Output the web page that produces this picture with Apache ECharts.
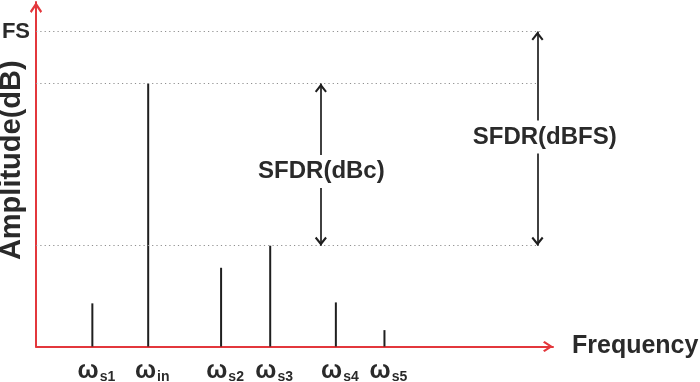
<!DOCTYPE html>
<html>
<head>
<meta charset="utf-8">
<style>
  html, body { margin: 0; padding: 0; background: #ffffff; }
  #chart { width: 700px; height: 382px; }
</style>
<script src="https://cdn.jsdelivr.net/npm/echarts@6/dist/echarts.min.js"></script>
</head>
<body>
<div id="chart"></div>
<script>
// ---- data (arbitrary linear units) ----
const toneFreq   = [10.9, 21.7, 35.8, 45.3, 58.0, 67.4];
const toneAmp    = [13.7, 83.5, 25.0, 32.0, 14.0, 5.2];
const toneSubs   = ['s1', 'in', 's2', 's3', 's4', 's5'];
const fsLevel      = 100;    // full scale
const carrierLevel = 83.5;   // fundamental amplitude
const spurLevel    = 32.0;   // worst spur amplitude
const guideEnd     = [97.6, 97.1, 97.1];     // end of dotted guides (FS, carrier, spur)
const sfdrX        = [55.1, 97.0];           // x of dBc / dBFS arrows
const sfdrLabelX   = [55.2, 98.4];
const sfdrLabelY   = [55.6, 66.5];
const sfdrNames    = ['SFDR(dBc)', 'SFDR(dBFS)'];
const yTickLabels  = ['FS'];

const FONT = "'Liberation Sans', Arial, sans-serif";
const RED = '#e3373c';
const INK = '#1f1f1f';
const chevron = 'path://M50,0 L100,76 L87,90 L50,34 L13,90 L0,76 Z';

const chart = echarts.init(document.getElementById('chart'), null, { renderer: 'canvas' });

const spikes = toneFreq.map((f, i) => [f, toneAmp[i]]);
const guideLevels = [fsLevel, carrierLevel, spurLevel];

const option = {
  animation: false,
  backgroundColor: '#ffffff',
  grid: { left: 36, right: 147, top: 2, bottom: 35.5, containLabel: false, outerBoundsMode: 'none' },
  xAxis: {
    type: 'value', min: 0, max: 100,
    name: 'Frequency', nameLocation: 'end', nameGap: 19, nameMoveOverlap: false,
    nameTextStyle: { fontFamily: FONT, fontWeight: 'bold', fontSize: 25, color: '#2a2a2a', verticalAlign: 'middle', padding: [9, 0, 0, 0] },
    axisLine: { show: true, lineStyle: { color: RED, width: 2 }, symbol: ['none', chevron], symbolSize: [14, 10], symbolOffset: [0, -5] },
    axisTick: { show: false },
    splitLine: { show: false },
    axisLabel: {
      show: true, margin: 12, customValues: toneFreq,
      formatter: function (v) {
        const i = toneFreq.indexOf(v);
        return i < 0 ? '' : '{w|ω}{s|' + toneSubs[i] + '}';
      },
      rich: {
        w: { fontFamily: FONT, fontWeight: 'bold', fontSize: 25, color: '#2a2a2a', padding: [0, 0, 0, 8] },
        s: { fontFamily: FONT, fontWeight: 'bold', fontSize: 14, color: '#2a2a2a', verticalAlign: 'bottom', padding: [0, 0, -1, 1] }
      }
    }
  },
  yAxis: {
    type: 'value', min: 0, max: 109.4,
    name: 'Amplitude(dB)', nameLocation: 'middle', nameGap: 10, nameRotate: 90, nameMoveOverlap: false,
    nameTextStyle: { fontFamily: FONT, fontWeight: 'bold', fontSize: 29, color: '#2a2a2a', padding: [0, 0, 0, 28] },
    axisLine: { show: true, lineStyle: { color: RED, width: 2 }, symbol: ['none', chevron], symbolSize: [15, 11], symbolOffset: [0, -5.5] },
    axisTick: { show: false },
    splitLine: { show: false },
    axisLabel: {
      show: true, margin: 6, customValues: [fsLevel],
      formatter: function () { return yTickLabels[0]; },
      fontFamily: FONT, fontWeight: 'bold', fontSize: 22, color: '#2a2a2a'
    }
  },
  series: [
    {
      name: 'spectrum', type: 'bar', data: spikes, barWidth: 2,
      itemStyle: { color: INK }, z: 2, silent: true,
      markLine: {
        silent: true, symbol: ['none', 'none'], label: { show: false },
        lineStyle: { color: '#8f8f8f', width: 1, type: [1.2, 3.1] },
        data: guideLevels.map((lv, i) => [{ coord: [0, lv] }, { coord: [guideEnd[i], lv] }])
      }
    },
    {
      name: 'sfdrArrows', type: 'scatter', data: [], z: 3, silent: true,
      markLine: {
        silent: true, label: { show: false },
        symbol: [chevron, chevron], symbolSize: [12, 9], symbolOffset: [[0, 4.5], [0, 4.5]],
        lineStyle: { color: INK, width: 1.7, type: 'solid' },
        data: [
          [{ coord: [sfdrX[0], carrierLevel] }, { coord: [sfdrX[0], spurLevel] }],
          [{ coord: [sfdrX[1], fsLevel] }, { coord: [sfdrX[1], spurLevel] }]
        ]
      }
    },
    {
      name: 'sfdrLabels', type: 'scatter', z: 5, silent: true, symbolSize: 0,
      itemStyle: { opacity: 1 },
      data: sfdrNames.map((n, i) => ({ value: [sfdrLabelX[i], sfdrLabelY[i]], name: n })),
      label: {
        show: true, position: 'inside', formatter: '{b}',
        fontFamily: FONT, fontWeight: 'bold', fontSize: 24, color: '#2a2a2a',
        backgroundColor: '#ffffff', padding: [5, 3, 4, 3]
      }
    }
  ]
};

chart.setOption(option);
</script>
</body>
</html>
